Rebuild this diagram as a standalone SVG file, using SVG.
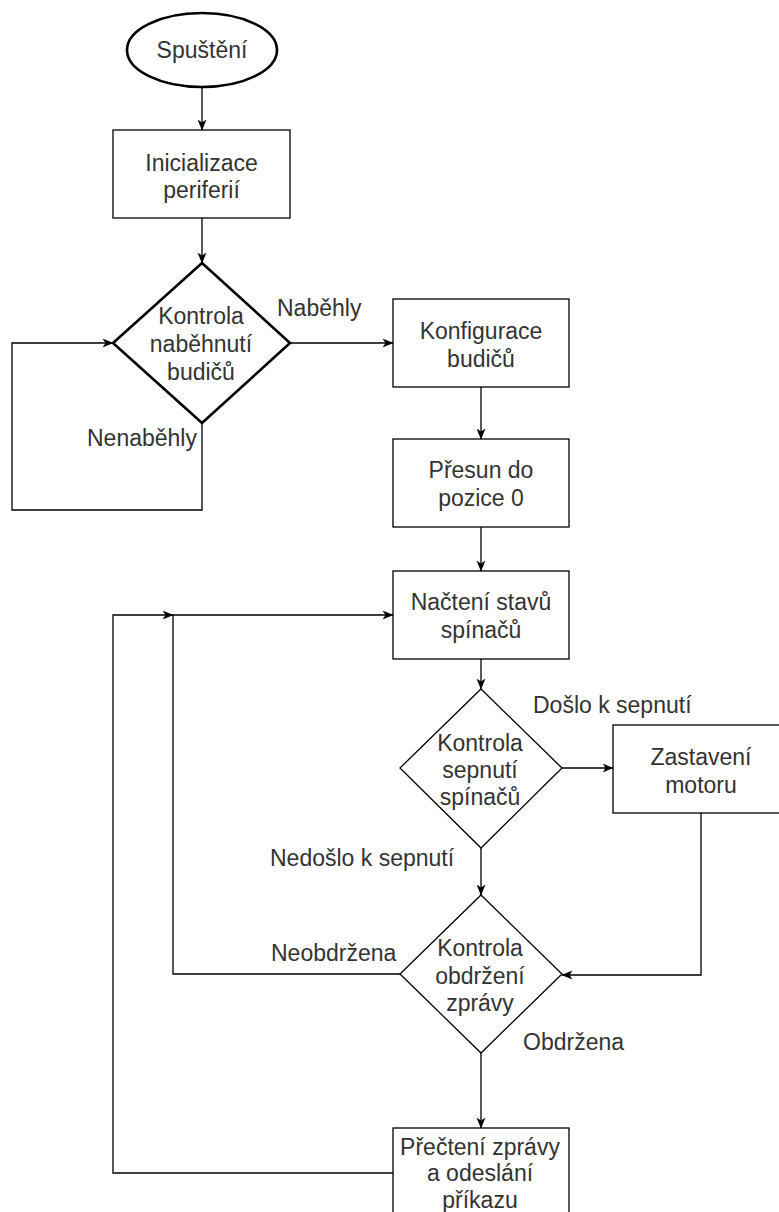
<svg xmlns="http://www.w3.org/2000/svg" width="779" height="1212" viewBox="0 0 779 1212">
<defs>
<marker id="arr" viewBox="0 0 11 10" refX="10.5" refY="5" markerWidth="11" markerHeight="10" orient="auto" markerUnits="userSpaceOnUse">
<path d="M0,0.5 L11,5 L0,9.5 L3,5 Z" fill="#000"/>
</marker>
<style>
.t{font-family:"Liberation Sans",Arial,sans-serif;font-size:23px;fill:#333;text-anchor:middle}
.l{font-family:"Liberation Sans",Arial,sans-serif;font-size:23px;fill:#333;text-anchor:start}
.box{fill:#fff;stroke:#000;stroke-width:1.3}
.thick{fill:#fff;stroke:#000;stroke-width:2.6}
.c{fill:none;stroke:#000;stroke-width:1.3}
.a{marker-end:url(#arr)}
</style>
</defs>
<rect width="779" height="1212" fill="#fff"/>
<g id="start">
<ellipse class="thick" cx="202" cy="50" rx="75" ry="37"/>
<text class="t" x="202" y="58">Spuštění</text>
</g>
<g id="init">
<rect class="box" x="113" y="130" width="177" height="88"/>
<text class="t" x="201.5" y="171">Inicializace</text>
<text class="t" x="201.5" y="198">periferií</text>
</g>
<g id="check-drivers">
<polygon class="thick" points="202,263 290,343 202,423 113,343"/>
<text class="t" x="201" y="324">Kontrola</text>
<text class="t" x="201" y="352">naběhnutí</text>
<text class="t" x="201" y="380">budičů</text>
</g>
<g id="config">
<rect class="box" x="393" y="299" width="176" height="88"/>
<text class="t" x="481" y="339">Konfigurace</text>
<text class="t" x="481" y="367">budičů</text>
</g>
<g id="home">
<rect class="box" x="393" y="439" width="176" height="88"/>
<text class="t" x="481" y="478">Přesun do</text>
<text class="t" x="481" y="506">pozice 0</text>
</g>
<g id="read-switches">
<rect class="box" x="393" y="571" width="176" height="88"/>
<text class="t" x="481" y="610">Načtení stavů</text>
<text class="t" x="481" y="638">spínačů</text>
</g>
<g id="check-switches">
<polygon class="box" points="481,689 562,768 481,848 400,768"/>
<text class="t" x="480" y="751">Kontrola</text>
<text class="t" x="480" y="778">sepnutí</text>
<text class="t" x="480" y="805">spínačů</text>
</g>
<g id="stop-motor">
<rect class="box" x="613" y="725" width="176" height="88"/>
<text class="t" x="701" y="765">Zastavení</text>
<text class="t" x="701" y="793">motoru</text>
</g>
<g id="check-message">
<polygon class="box" points="481,895 562,974 481,1053 400,974"/>
<text class="t" x="480" y="956">Kontrola</text>
<text class="t" x="480" y="984">obdržení</text>
<text class="t" x="480" y="1011">zprávy</text>
</g>
<g id="read-message">
<rect class="box" x="393" y="1128" width="176" height="88"/>
<text class="t" x="480" y="1155">Přečtení zprávy</text>
<text class="t" x="480" y="1181">a odeslání</text>
<text class="t" x="480" y="1208">příkazu</text>
</g>
<g id="connectors">
<path class="c a" d="M202,87 L202,130"/>
<path class="c a" d="M202,218 L202,263"/>
<path class="c a" d="M202,423 L202,510 L12,510 L12,343 L113,343"/>
<path class="c a" d="M290,343 L393,343"/>
<path class="c a" d="M481,387 L481,439"/>
<path class="c a" d="M481,527 L481,571"/>
<path class="c a" d="M481,659 L481,689"/>
<path class="c a" d="M562,768 L613,768"/>
<path class="c a" d="M481,848 L481,895"/>
<path class="c a" d="M701,813 L701,975 L562,975"/>
<path class="c a" d="M400,974 L173,974 L173,615 L393,615"/>
<path class="c a" d="M481,1053 L481,1128"/>
<path class="c a" d="M393,1173 L113,1173 L113,615 L173,615"/>
</g>
<g id="labels">
<text class="l" x="277" y="316">Naběhly</text>
<text class="l" x="87" y="446">Nenaběhly</text>
<text class="l" x="533" y="713">Došlo k sepnutí</text>
<text class="l" x="270" y="866">Nedošlo k sepnutí</text>
<text class="l" x="271" y="961">Neobdržena</text>
<text class="l" x="523" y="1050">Obdržena</text>
</g>
</svg>
